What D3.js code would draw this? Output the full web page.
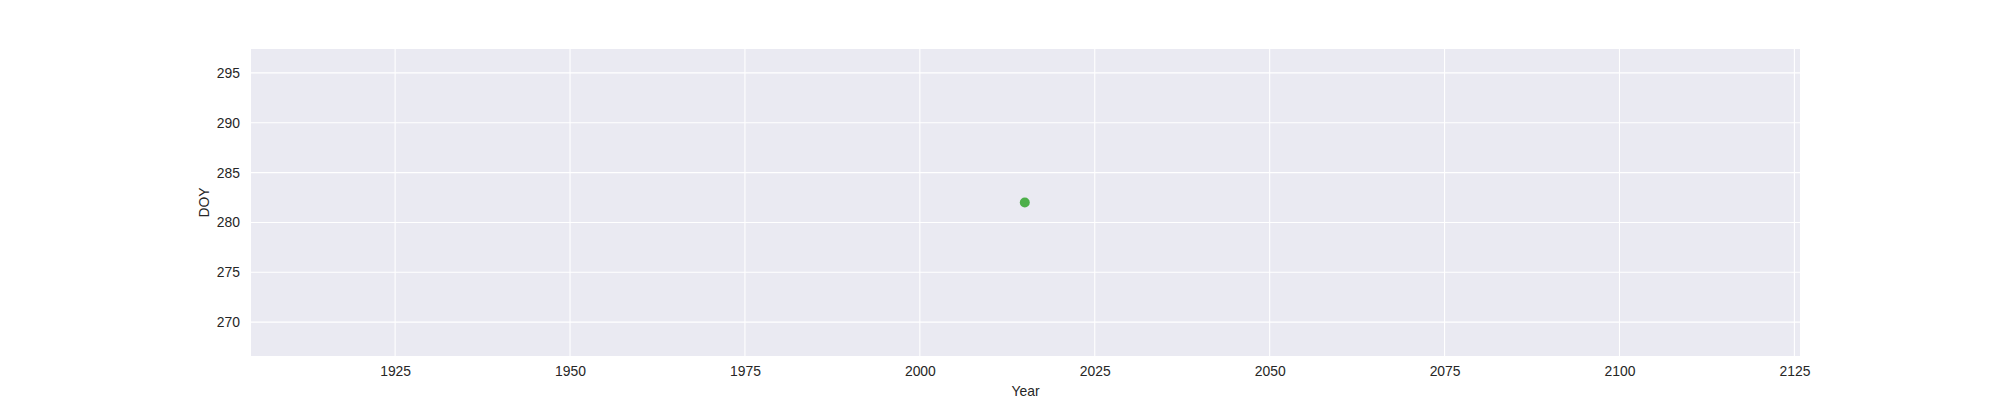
<!DOCTYPE html>
<html lang="en">

<head>
  <meta charset="utf-8">
  <title>DOY by Year</title>
  <script src="https://d3js.org/d3.v7.min.js" charset="utf-8"></script>
  <style type="text/css">
    body {
      margin: 0;
      background: #fff;
    }

    text {
      font-family: "Liberation Sans", Arial, sans-serif;
      fill: #262626;
    }

    .grid line {
      stroke: #fff;
      stroke-width: 1.1;
    }
  </style>
</head>

<body>
  <script type="text/javascript">

    // data
    var years = [2015];
    var doy = [282];
    var xTicks = [1925, 1950, 1975, 2000, 2025, 2050, 2075, 2100, 2125];
    var yTicks = [270, 275, 280, 285, 290, 295];

    var W = 2000, H = 400;
    // plot box (window.top is reserved, so use own names)
    var padL = 251, padR = 1800, padT = 49, padB = 356;

    var svg = d3.select("body").append("svg")
      .attr("width", W)
      .attr("height", H);

    var x = d3.scaleLinear()
      .domain([1904.4, 2125.8])
      .range([padL, padR]);
    var y = d3.scaleLinear()
      .domain([266.6, 297.4])
      .range([padB, padT]);

    // background
    svg.append("rect")
      .attr("x", padL)
      .attr("y", padT)
      .attr("width", padR - padL)
      .attr("height", padB - padT)
      .attr("fill", "#EAEAF2");

    // grid
    svg.append("g")
      .attr("class", "grid")
      .selectAll("line")
      .data(xTicks)
      .enter()
      .append("line")
      .attr("x1", function (d) { return x(d); })
      .attr("x2", function (d) { return x(d); })
      .attr("y1", padT)
      .attr("y2", padB);

    svg.append("g")
      .attr("class", "grid")
      .selectAll("line")
      .data(yTicks)
      .enter()
      .append("line")
      .attr("x1", padL)
      .attr("x2", padR)
      .attr("y1", function (d) { return y(d); })
      .attr("y2", function (d) { return y(d); });

    // x axis
    var xAxis = svg.append("g")
      .attr("transform", "translate(0," + padB + ")")
      .call(d3.axisBottom(x).tickValues(xTicks).tickFormat(d3.format("d")).tickSize(0).tickPadding(10));
    xAxis.select(".domain").remove();
    xAxis.selectAll("text")
      .attr("font-size", "13.9px")
      .attr("font-family", null)
      .attr("fill", "#262626");

    // y axis
    var yAxis = svg.append("g")
      .attr("transform", "translate(" + padL + ",0)")
      .call(d3.axisLeft(y).tickValues(yTicks).tickFormat(d3.format("d")).tickSize(0).tickPadding(11));
    yAxis.select(".domain").remove();
    yAxis.selectAll("text")
      .attr("font-size", "13.9px")
      .attr("font-family", null)
      .attr("fill", "#262626");

    // axis labels
    svg.append("text")
      .attr("x", (padL + padR) / 2)
      .attr("y", 396)
      .attr("text-anchor", "middle")
      .attr("font-size", "13.9px")
      .text("Year");

    svg.append("text")
      .attr("transform", "translate(209," + (padT + padB) / 2 + ") rotate(-90)")
      .attr("text-anchor", "middle")
      .attr("font-size", "13.9px")
      .text("DOY");

    // points
    svg.append("g")
      .selectAll("circle")
      .data(years)
      .enter()
      .append("circle")
      .attr("cx", function (d) { return x(d); })
      .attr("cy", function (d, i) { return y(doy[i]); })
      .attr("r", 5)
      .attr("fill", "#4daf4a");

  </script>
</body>

</html>
